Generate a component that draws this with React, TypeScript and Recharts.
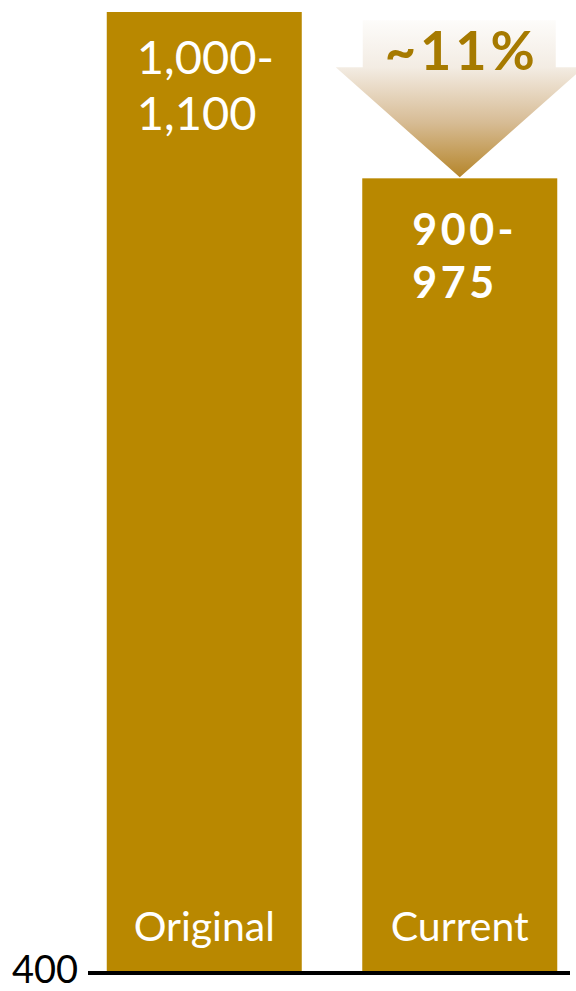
import React from 'react';
import { BarChart, Bar, XAxis, YAxis, ReferenceLine } from 'recharts';

const categories = ['Original', 'Current'];
const positions = [1, 2];
const midValues = [1050, 937.5];
const rangeLines = [['1,000-', '1,100'], ['900-', '975']];
const rangeBold = [false, true];
const changeLabel = '~11%';
const yTicks = [400];

const data = categories.map((name, i) => ({
  name,
  idx: i,
  pos: positions[i],
  value: midValues[i],
  lines: rangeLines[i],
  bold: rangeBold[i],
}));

const GOLD = '#B98800';
const FONT = 'Lato, "Open Sans", sans-serif';

function BarShape(props: any) {
  const { x, y, width, height, payload } = props;
  const i = payload.idx;
  const cx = x + width / 2;
  const bottom = y + height;
  const inset = i === 0 ? 30 : 50;
  const fs = payload.bold ? 43 : 47;
  const ls = payload.bold ? 3.5 : 0;
  const b1 = i === 0 ? 62 : 67;
  const b2 = i === 0 ? 118 : 120;
  const tipY = y - 1;
  return (
    <g>
      <rect x={x} y={y} width={width} height={height} fill={GOLD} />
      <text x={x + inset} y={y + b1} fill="#fff" fontSize={fs} letterSpacing={ls} fontWeight={payload.bold ? 700 : 400} fontFamily={FONT}>
        {payload.lines[0]}
      </text>
      <text x={x + inset} y={y + b2} fill="#fff" fontSize={fs} letterSpacing={ls} fontWeight={payload.bold ? 700 : 400} fontFamily={FONT}>
        {payload.lines[1]}
      </text>
      <text x={cx} y={bottom - 32} fill="#fff" fontSize={41} textAnchor="middle" fontFamily={FONT}>
        {payload.name}
      </text>
      {i === 1 && (
        <g>
          <defs>
            <linearGradient id="arrowGrad" x1="0" y1={tipY - 157} x2="0" y2={tipY} gradientUnits="userSpaceOnUse">
              <stop offset="0" stopColor="#FDFCFA" />
              <stop offset="0.3" stopColor="#F3ECE3" />
              <stop offset="0.65" stopColor="#D7BC95" />
              <stop offset="1" stopColor="#B5852A" />
            </linearGradient>
          </defs>
          <polygon
            points={[
              [cx - 97, tipY - 157],
              [cx + 96, tipY - 157],
              [cx + 96, tipY - 110],
              [cx + 124, tipY - 110],
              [cx, tipY],
              [cx - 124, tipY - 110],
              [cx - 97, tipY - 110],
            ].map((p) => p.join(',')).join(' ')}
            fill="url(#arrowGrad)"
          />
          <text x={cx + 2} y={70} fill="#A67A00" fontSize={54} letterSpacing={4} fontWeight={700} textAnchor="middle" fontFamily={FONT}>
            {changeLabel}
          </text>
        </g>
      )}
    </g>
  );
}

function YTick(props: any) {
  const { x, y, payload } = props;
  return (
    <text x={x} y={y + 10} textAnchor="end" fill="#000" fontSize={38} fontFamily={FONT}>
      {payload.value}
    </text>
  );
}

export default function App() {
  return (
    <div style={{ position: 'absolute', left: 0, top: 0, width: 576, height: 991, background: '#fff', overflow: 'hidden' }}>
      <BarChart width={576} height={991} data={data} margin={{ top: 12, right: 6, bottom: 18, left: 0 }}>
        <XAxis type="number" dataKey="pos" domain={[0.544, 2.4305]} height={0} hide />
        <YAxis
          type="number"
          domain={[400, 1050]}
          ticks={yTicks}
          width={88}
          axisLine={false}
          tickLine={false}
          tickMargin={4}
          tick={YTick}
        />
        <Bar dataKey="value" barSize={195} isAnimationActive={false} shape={BarShape} />
        <ReferenceLine y={400} stroke="#000" strokeWidth={4} />
      </BarChart>
    </div>
  );
}
